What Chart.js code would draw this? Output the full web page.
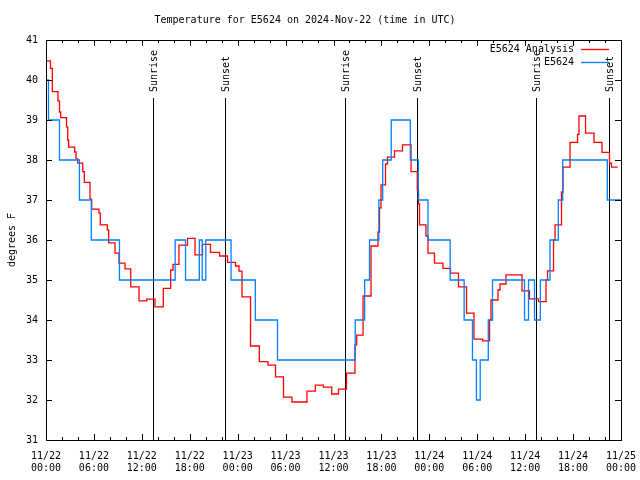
<!DOCTYPE html>
<html>
<head>
<meta charset="utf-8">
<script src="https://cdn.jsdelivr.net/npm/chart.js@4.4.1/dist/chart.umd.min.js"></script>
<style>
  html, body { margin: 0; padding: 0; background: #fff; }
  canvas { display: block; }
</style>
</head>
<body>
<canvas id="tempChart" width="640" height="480"></canvas>
<script>
// hours since 2024-11-22 00:00 UTC, value holds until the next entry
const analysisHours = [0, 0.56, 0.79, 1.50, 1.69, 1.84, 2.57, 2.72, 2.84, 3.59, 3.76, 3.97, 4.60, 4.80,
    5.51, 5.72, 6.64, 6.80, 7.68, 7.85, 8.64, 9.14, 9.89, 10.61, 11.65, 12.61, 13.65, 14.69, 15.61,
    15.90, 16.65, 17.72, 18.66, 19.60, 20.60, 21.73, 22.73, 23.73, 24.17, 24.54, 25.61, 26.71, 27.80,
    28.74, 29.74, 30.80, 32.68, 33.72, 34.72, 35.78, 36.63, 37.63, 38.69, 38.91, 39.70, 40.70, 41.57,
    41.76, 41.95, 42.51, 42.76, 43.64, 44.64, 45.71, 46.49, 46.65, 46.77, 47.58, 47.83, 48.65, 49.71,
    50.65, 51.65, 52.66, 53.59, 54.68, 55.54, 55.72, 56.60, 56.85, 57.60, 59.61, 60.54, 61.67, 62.61,
    62.80, 63.55, 63.74, 64.55, 64.74, 65.62, 66.56, 66.74, 67.56, 68.62, 69.62, 70.56, 70.81, 71.59];
const analysisTemps = [40.48, 40.29, 39.71, 39.48, 39.2, 39.06, 38.83, 38.5, 38.32, 38.2, 38.03, 37.92, 37.71, 37.44,
    37.02, 36.77, 36.67, 36.38, 36.25, 35.93, 35.67, 35.42, 35.28, 34.83, 34.48, 34.52, 34.33, 34.79, 35.25,
    35.39, 35.87, 36.04, 35.63, 35.89, 35.69, 35.6, 35.44, 35.35, 35.22, 34.58, 33.35, 32.96, 32.87,
    32.58, 32.07, 31.95, 32.22, 32.37, 32.32, 32.15, 32.27, 32.67, 33.38, 33.62, 34.6, 35.85, 36.2,
    36.8, 37.38, 37.9, 38.07, 38.23, 38.38, 37.71, 37.25, 36.9, 36.38, 36.1, 35.67, 35.42, 35.29,
    35.17, 34.83, 34.17, 33.52, 33.48, 34.0, 34.5, 34.75, 34.9, 35.13, 34.73, 34.53, 34.46, 35.0,
    35.23, 36.0, 36.38, 37.2, 37.82, 38.44, 38.64, 39.1, 38.67, 38.44, 38.19, 37.92, 37.82, 37.82];

const stationHours = [0, 0.31, 1.69, 4.19, 5.67, 9.2, 16.17, 17.47, 19.2, 19.56, 20.01, 23.17, 26.21, 28.99,
    38.72, 39.9, 40.51, 41.68, 42.16, 43.23, 45.62, 46.62, 47.83, 50.61, 52.36, 53.4, 53.9, 54.37,
    55.38, 55.91, 59.92, 60.42, 61.17, 61.9, 63.11, 64.15, 64.7, 70.29, 72];
const stationTemps = [40, 39, 38, 37, 36, 35, 36, 35, 36, 35, 36, 35, 34, 33,
    34, 35, 36, 37, 38, 39, 38, 37, 36, 35, 34, 33, 32, 33,
    34, 35, 34, 35, 34, 35, 36, 37, 38, 37, 37];

const sunriseHours = [13.44, 37.48, 61.40];
const sunsetHours = [22.41, 46.49, 70.54];
const dayLabels = ["11/22", "11/23", "11/24", "11/25"];

const fontFamily = '"DejaVu Sans Mono", "Liberation Mono", monospace';

function toPoints(hours, temps) {
    return hours.map((h, i) => ({ x: h, y: temps[i] }));
}

// gnuplot style frame, inward ticks, sun markers, title and key
const gnuplotDecor = {
    id: "gnuplotDecor",
    beforeDatasetsDraw(chart) {
        const ctx = chart.ctx;
        const xs = chart.scales.x;
        const ys = chart.scales.y;
        const top = ys.getPixelForValue(39.55);
        const bottom = ys.getPixelForValue(31);
        ctx.save();
        ctx.strokeStyle = "#000";
        ctx.lineWidth = 1;
        ctx.font = "10px " + fontFamily;
        ctx.fillStyle = "#000";
        const drawMark = (h, text) => {
            const px = Math.round(xs.getPixelForValue(h)) + 0.5;
            ctx.beginPath();
            ctx.moveTo(px, top);
            ctx.lineTo(px, bottom);
            ctx.stroke();
            ctx.save();
            ctx.translate(px + 1, top - 6);
            ctx.rotate(-Math.PI / 2);
            ctx.textAlign = "left";
            ctx.textBaseline = "middle";
            ctx.fillText(text, 0, 0);
            ctx.restore();
        };
        sunriseHours.forEach(h => drawMark(h, "Sunrise"));
        sunsetHours.forEach(h => drawMark(h, "Sunset"));
        ctx.restore();
    },
    afterDraw(chart) {
        const ctx = chart.ctx;
        const area = chart.chartArea;
        const xs = chart.scales.x;
        const ys = chart.scales.y;
        ctx.save();
        ctx.strokeStyle = "#000";
        ctx.lineWidth = 1;
        ctx.strokeRect(area.left + 0.5, area.top + 0.5, area.right - area.left, area.bottom - area.top);

        ctx.beginPath();
        xs.ticks.forEach(t => {
            const px = Math.round(xs.getPixelForValue(t.value)) + 0.5;
            const len = t.value % 6 === 0 ? 6 : 3;
            ctx.moveTo(px, area.bottom);
            ctx.lineTo(px, area.bottom - len);
            ctx.moveTo(px, area.top);
            ctx.lineTo(px, area.top + len);
        });
        ys.ticks.forEach(t => {
            const py = Math.round(ys.getPixelForValue(t.value)) + 0.5;
            ctx.moveTo(area.left, py);
            ctx.lineTo(area.left + 6, py);
            ctx.moveTo(area.right, py);
            ctx.lineTo(area.right - 6, py);
        });
        ctx.stroke();

        ctx.fillStyle = "#000";
        ctx.font = "10px " + fontFamily;
        ctx.textBaseline = "middle";
        ctx.textAlign = "center";
        ctx.fillText("Temperature for E5624 on 2024-Nov-22 (time in UTC)", 305, 20);

        ctx.save();
        ctx.translate(12, 240);
        ctx.rotate(-Math.PI / 2);
        ctx.fillText("degrees F", 0, 0);
        ctx.restore();

        // key
        const keys = [
            { label: "E5624 Analysis", color: "#ff0000", y: 49.5 },
            { label: "E5624", color: "#0080ff", y: 62.5 }
        ];
        keys.forEach(k => {
            ctx.textAlign = "right";
            ctx.fillStyle = "#000";
            ctx.fillText(k.label, 574, k.y);
            ctx.strokeStyle = k.color;
            ctx.lineWidth = 1.3;
            ctx.beginPath();
            ctx.moveTo(581, k.y);
            ctx.lineTo(609, k.y);
            ctx.stroke();
        });
        ctx.restore();
    }
};

Chart.defaults.font.family = fontFamily;
Chart.defaults.font.size = 10;
Chart.defaults.color = "#000";

const chart = new Chart(document.getElementById("tempChart"), {
    type: "line",
    data: {
        datasets: [
            {
                label: "E5624",
                data: toPoints(stationHours, stationTemps),
                borderColor: "#0080ff",
                borderWidth: 1.3,
                pointRadius: 0,
                stepped: "before",
                fill: false
            },
            {
                label: "E5624 Analysis",
                data: toPoints(analysisHours, analysisTemps),
                borderColor: "#ff0000",
                borderWidth: 1.3,
                pointRadius: 0,
                stepped: "before",
                fill: false
            }
        ]
    },
    options: {
        responsive: false,
        animation: false,
        devicePixelRatio: 1,
        layout: { padding: { left: 0, top: 40, right: 19, bottom: 0 } },
        plugins: {
            legend: { display: false },
            title: { display: false },
            tooltip: { enabled: false }
        },
        scales: {
            x: {
                type: "linear",
                min: 0,
                max: 72,
                grid: { display: false, drawTicks: false },
                border: { display: false },
                afterFit(scale) {
                    scale.height = 40;
                    scale.paddingLeft = 0;
                    scale.paddingRight = 0;
                },
                ticks: {
                    stepSize: 2,
                    autoSkip: false,
                    maxRotation: 0,
                    padding: 10,
                    font: { size: 10, lineHeight: 1.2 },
                    callback(value) {
                        if (value % 6 !== 0) return "";
                        const day = Math.floor(value / 24);
                        const hour = value % 24;
                        return [dayLabels[day], String(hour).padStart(2, "0") + ":00"];
                    }
                }
            },
            y: {
                min: 31,
                max: 41,
                grid: { display: false, drawTicks: false },
                border: { display: false },
                afterFit(scale) {
                    scale.width = 46;
                    scale.paddingTop = 0;
                    scale.paddingBottom = 0;
                },
                ticks: {
                    stepSize: 1,
                    padding: 8
                }
            }
        }
    },
    plugins: [gnuplotDecor]
});
</script>
</body>
</html>
